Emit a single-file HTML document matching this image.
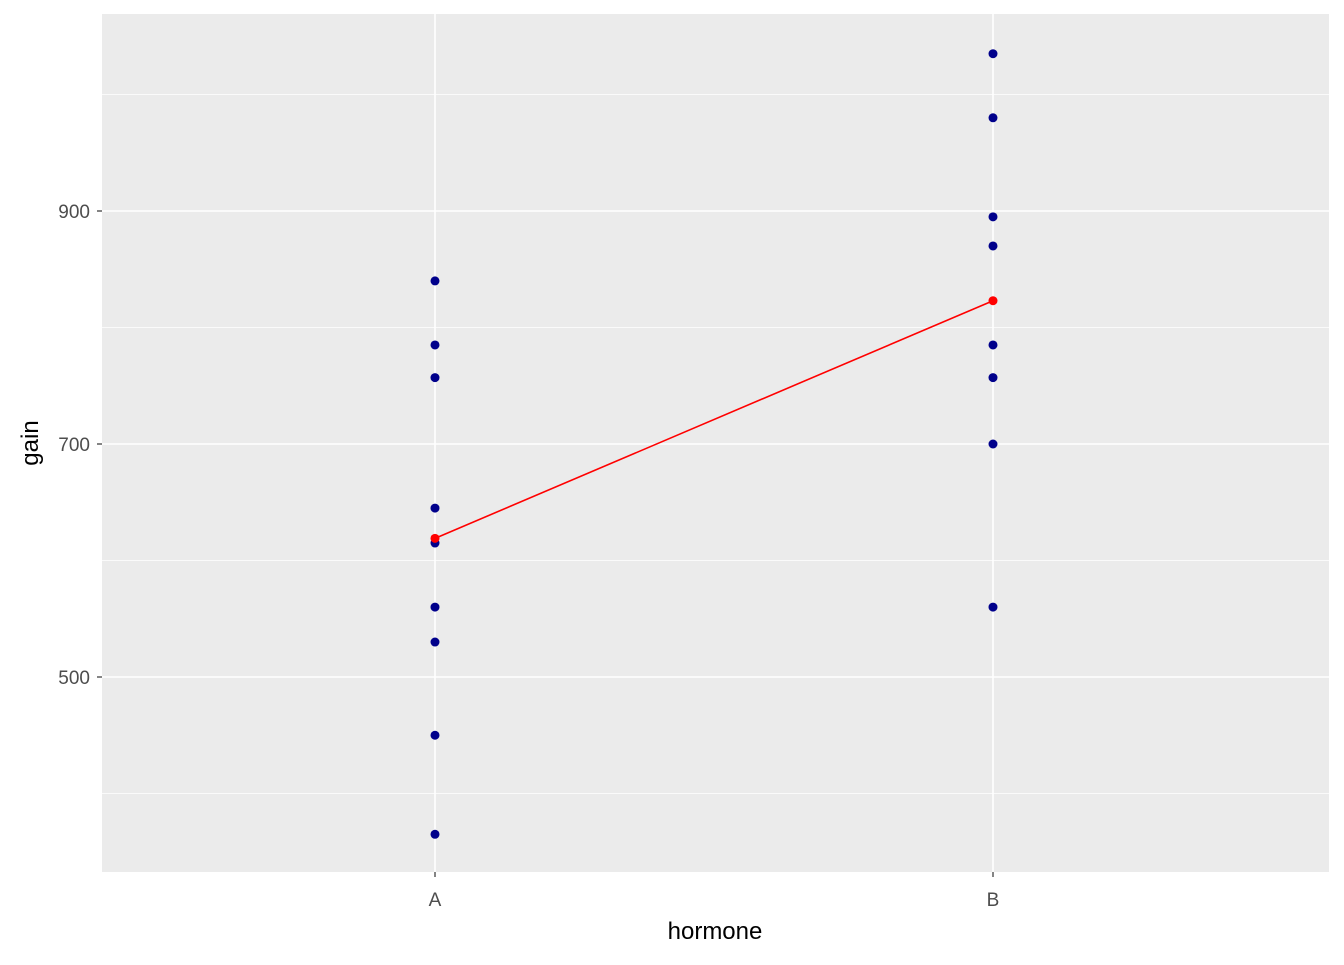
<!DOCTYPE html>
<html><head><meta charset="utf-8"><style>
body{margin:0;background:#fff;}
svg text{font-family:"Liberation Sans",Arial,sans-serif;}
</style></head><body>
<svg id="chart" width="1344" height="960"></svg>
<script>
const categories = ["A","B"];
const gainA = [840,785,757,645,615,560,530,450,365];
const gainB = [1035,980,895,870,785,757,700,560];
const means = [619,823];
const yTicks = [500,700,900];
const yMinor = [400,600,800,1000];

const NS="http://www.w3.org/2000/svg";
const svg=document.getElementById('chart');
const P={l:102,r:1329,t:14,b:872};
const y=v=>677-(v-500)*1.165;
const x=i=>[435,993][i];
function mk(t,a){const e=document.createElementNS(NS,t);for(const k in a)e.setAttribute(k,a[k]);svg.appendChild(e);return e;}
const bg=mk('rect',{x:P.l,y:P.t,width:P.r-P.l,height:P.b-P.t,fill:'#ebebeb'});


yMinor.forEach(v=>{const l=mk('line',{x1:P.l,x2:P.r,y1:y(v),y2:y(v),stroke:'#fff','stroke-width':0.8});

});
yTicks.forEach(v=>{const l=mk('line',{x1:P.l,x2:P.r,y1:y(v),y2:y(v),stroke:'#fff','stroke-width':1.6});


const tk=mk('line',{x1:97,x2:102,y1:y(v),y2:y(v),stroke:'#333','stroke-width':1.2});


const t=mk('text',{x:90,y:y(v)+7,'text-anchor':'end','font-size':19,fill:'#4d4d4d'});t.textContent=v;

});
categories.forEach((c,i)=>{const l=mk('line',{x1:x(i),x2:x(i),y1:P.t,y2:P.b,stroke:'#fff','stroke-width':1.6});


const tk=mk('line',{x1:x(i),x2:x(i),y1:872,y2:877,stroke:'#333','stroke-width':1.2});


const t=mk('text',{x:x(i),y:906,'text-anchor':'middle','font-size':19,fill:'#4d4d4d'});t.textContent=c;

});
[gainA,gainB].forEach((arr,i)=>arr.forEach(v=>{const c=mk('circle',{cx:x(i),cy:y(v),r:4.5,fill:'#00008b'});

}));
const ml=mk('line',{x1:x(0),y1:y(means[0]),x2:x(1),y2:y(means[1]),stroke:'#ff0000','stroke-width':1.6});


means.forEach((v,i)=>{const c=mk('circle',{cx:x(i),cy:y(v),r:4.5,fill:'#ff0000'});

});
const xt=mk('text',{x:715,y:939,'text-anchor':'middle','font-size':24,fill:'#000'});xt.textContent='hormone';


const yt=mk('text',{x:0,y:0,'text-anchor':'middle','font-size':24,fill:'#000',transform:'translate(38,443) rotate(-90)'});yt.textContent='gain';


</script>
</body></html>
